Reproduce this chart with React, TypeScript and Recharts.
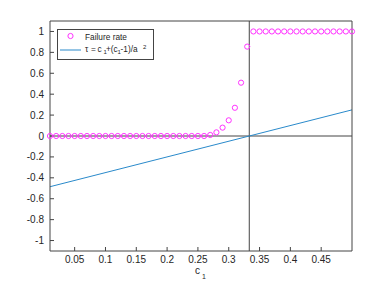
import React from "react";
import {
  ComposedChart,
  XAxis,
  YAxis,
  Scatter,
  Line,
  ReferenceLine,
  Legend,
} from "recharts";

const c1Values = [
  0.01, 0.02, 0.03, 0.04, 0.05, 0.06, 0.07, 0.08, 0.09, 0.1,
  0.11, 0.12, 0.13, 0.14, 0.15, 0.16, 0.17, 0.18, 0.19, 0.2,
  0.21, 0.22, 0.23, 0.24, 0.25, 0.26, 0.27, 0.28, 0.29, 0.3,
  0.31, 0.32, 0.33, 0.34, 0.35, 0.36, 0.37, 0.38, 0.39, 0.4,
  0.41, 0.42, 0.43, 0.44, 0.45, 0.46, 0.47, 0.48, 0.49, 0.5,
];
const failureRate = [
  0, 0, 0, 0, 0, 0, 0, 0, 0, 0,
  0, 0, 0, 0, 0, 0, 0, 0, 0, 0,
  0, 0, 0, 0, 0, 0, 0.01, 0.035, 0.08, 0.15,
  0.27, 0.51, 0.855, 1, 1, 1, 1, 1, 1, 1,
  1, 1, 1, 1, 1, 1, 1, 1, 1, 1,
];
const lineC1 = [0.01, 0.5];
const lineTau = [-0.485, 0.25];
const xTicks = [0.05, 0.1, 0.15, 0.2, 0.25, 0.3, 0.35, 0.4, 0.45];
const yTicks = [-1, -0.8, -0.6, -0.4, -0.2, 0, 0.2, 0.4, 0.6, 0.8, 1];
const thresholdC1 = 1 / 3;

const scatterData = c1Values.map((c, i) => ({ c1: c, rate: failureRate[i] }));
const lineData = lineC1.map((c, i) => ({ c1: c, tau: lineTau[i] }));

const AXIS = "#444";
const MAGENTA = "#ff33ff";
const BLUE = "#2a8acb";
const FONT = "'Liberation Sans', Arial, Helvetica, sans-serif";
const TXT = "#262626";

const Circle = (props: any) => {
  const { cx, cy } = props;
  if (cx == null || cy == null) return null;
  return <circle cx={cx} cy={cy} r={2.6} fill="none" stroke={MAGENTA} strokeWidth={1} />;
};

const T = ({ x, y, s, children }: any) => (
  <text x={x} y={y} fontSize={s} fontFamily={FONT} fill={TXT}>
    {children}
  </text>
);

const LegendBox = () => (
  <div
    style={{
      width: 97,
      height: 31,
      border: `1px solid ${AXIS}`,
      background: "#fff",
      boxSizing: "border-box",
      position: "relative",
    }}
  >
    <svg width={97} height={31} style={{ position: "absolute", left: -1, top: -1 }}>
      <circle cx={13.5} cy={7} r={2.6} fill="none" stroke={MAGENTA} strokeWidth={1} />
      <T x={28} y={10.5} s={8.3}>Failure rate</T>
      <line x1={3} y1={21} x2={24} y2={21} stroke={BLUE} strokeWidth={1} />
      <T x={28} y={22.5} s={8.3}>τ</T>
      <T x={34} y={22.5} s={8.3}>=</T>
      <T x={40.5} y={22.5} s={8.3}>c</T>
      <T x={46.5} y={25} s={6}>1</T>
      <T x={49} y={22.5} s={8.3}>+(c</T>
      <T x={60.5} y={25} s={6}>1</T>
      <T x={63.5} y={22.5} s={8.3}>-1)/a</T>
      <T x={86} y={19.5} s={6}>2</T>
    </svg>
  </div>
);

const XLabel = (props: any) => {
  const vb = props.viewBox || {};
  const cx = (vb.x ?? 0) + (vb.width ?? 0) / 2;
  return (
    <g>
      <T x={cx - 6} y={273.5} s={10}>c</T>
      <T x={cx + 1} y={278.5} s={7}>1</T>
    </g>
  );
};

const fmt = (v: number) => String(Math.round(v * 100) / 100);

export default function App() {
  return (
    <div style={{ position: "absolute", left: 0, top: 0 }}>
      <ComposedChart
        width={389}
        height={284}
        margin={{ top: 20, right: 36, bottom: 0, left: 0 }}
        style={{ fontFamily: FONT }}
      >
        <XAxis
          xAxisId="b"
          type="number"
          dataKey="c1"
          domain={[0.01, 0.5]}
          ticks={xTicks}
          tickFormatter={fmt}
          height={33}
          tickSize={-4}
          tickMargin={9}
          stroke={AXIS}
          tick={{ fontSize: 10, fill: TXT }}
          label={<XLabel />}
        />
        <XAxis
          xAxisId="t"
          orientation="top"
          type="number"
          dataKey="c1"
          domain={[0.01, 0.5]}
          ticks={xTicks}
          height={1}
          tickSize={-4}
          tick={false}
          stroke={AXIS}
        />
        <YAxis
          yAxisId="l"
          type="number"
          domain={[-1.1, 1.1]}
          ticks={yTicks}
          tickFormatter={fmt}
          width={50}
          tickSize={-4}
          tickMargin={10}
          stroke={AXIS}
          tick={{ fontSize: 10, fill: TXT }}
        />
        <YAxis
          yAxisId="r"
          orientation="right"
          type="number"
          domain={[-1.1, 1.1]}
          ticks={yTicks}
          width={1}
          tickSize={-4}
          tick={false}
          stroke={AXIS}
        />
        <ReferenceLine xAxisId="b" yAxisId="l" y={0} stroke={AXIS} strokeWidth={1} />
        <ReferenceLine xAxisId="b" yAxisId="l" x={thresholdC1} stroke={AXIS} strokeWidth={1} />
        <Line
          xAxisId="b"
          yAxisId="l"
          data={lineData}
          dataKey="tau"
          stroke={BLUE}
          strokeWidth={1}
          dot={false}
          activeDot={false}
          isAnimationActive={false}
          legendType="none"
        />
        <Scatter
          xAxisId="b"
          yAxisId="l"
          data={scatterData}
          dataKey="rate"
          shape={<Circle />}
          isAnimationActive={false}
          legendType="none"
        />
        <Legend
          layout="vertical"
          align="center"
          verticalAlign="middle"
          content={<LegendBox />}
          wrapperStyle={{ left: 57, top: 29, width: 97, height: 31 }}
        />
      </ComposedChart>
    </div>
  );
}
